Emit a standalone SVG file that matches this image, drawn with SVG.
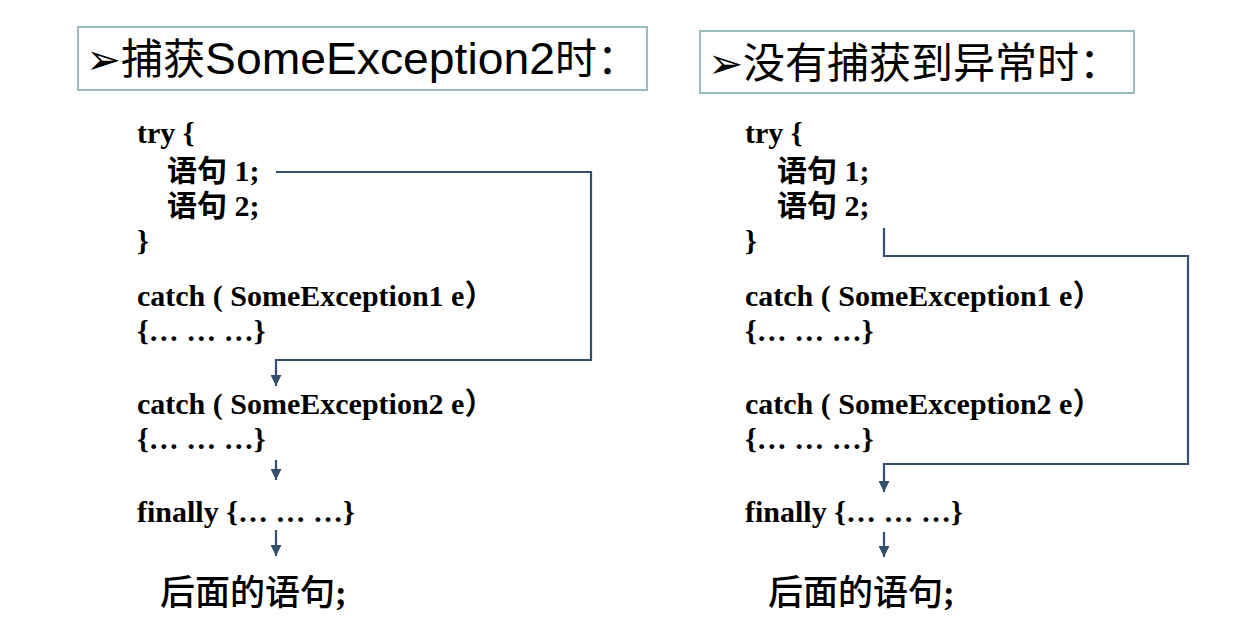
<svg xmlns="http://www.w3.org/2000/svg" width="1238" height="634" viewBox="0 0 1238 634">
<style>
.title{font-family:"Liberation Sans","Noto Sans CJK SC",sans-serif;font-size:42px;fill:#000}
.code{font-family:"Liberation Serif","Noto Sans CJK SC",serif;font-weight:bold;font-size:30px;fill:#000}
.after{font-size:35px;font-weight:500}
.box{fill:#fff;stroke:#9bbcbc;stroke-width:2}
.conn{fill:none;stroke:#34506e;stroke-width:2.2}
</style>
<defs>
<marker id="ah" viewBox="0 0 10 10" refX="10" refY="5" markerWidth="11" markerHeight="11" markerUnits="userSpaceOnUse" orient="auto">
<path d="M0,0 L10,5 L0,10 Z" fill="#34506e"/>
</marker>
</defs>
<rect width="1238" height="634" fill="#fff"/>
<g id="title-left">
<rect class="box" x="78" y="27" width="569" height="63"/>
<text class="title" x="86" y="74">➢捕获<tspan font-size="44" textLength="350" lengthAdjust="spacingAndGlyphs">SomeException2</tspan>时：</text>
</g>
<g id="title-right">
<rect class="box" x="700" y="31" width="434" height="62"/>
<text class="title" x="708" y="78">➢没有捕获到异常时：</text>
</g>
<g id="code-left">
<text class="code" x="137" y="143">try {</text>
<text class="code" x="167" y="181">语句 1;</text>
<text class="code" x="167" y="216">语句 2;</text>
<text class="code" x="137" y="251">}</text>
<text class="code" x="137" y="306">catch ( SomeException1 e）</text>
<text class="code" x="137" y="341">{… … …}</text>
<text class="code" x="137" y="414">catch ( SomeException2 e）</text>
<text class="code" x="137" y="449">{… … …}</text>
<text class="code" x="137" y="522">finally {… … …}</text>
<text class="code after" x="160" y="605">后面的语句<tspan font-weight="bold">;</tspan></text>
</g>
<g id="code-right">
<text class="code" x="745" y="143">try {</text>
<text class="code" x="777" y="181">语句 1;</text>
<text class="code" x="777" y="216">语句 2;</text>
<text class="code" x="745" y="251">}</text>
<text class="code" x="745" y="306">catch ( SomeException1 e）</text>
<text class="code" x="745" y="341">{… … …}</text>
<text class="code" x="745" y="414">catch ( SomeException2 e）</text>
<text class="code" x="745" y="449">{… … …}</text>
<text class="code" x="745" y="522">finally {… … …}</text>
<text class="code after" x="768" y="605">后面的语句<tspan font-weight="bold">;</tspan></text>
</g>
<g id="connectors">
<path class="conn" d="M276,172 H591 V360 H276 V386" marker-end="url(#ah)"/>
<path class="conn" d="M276,460 V480" marker-end="url(#ah)"/>
<path class="conn" d="M276,530 V556" marker-end="url(#ah)"/>
<path class="conn" d="M884,228 V256 H1188 V464 H884 V492" marker-end="url(#ah)"/>
<path class="conn" d="M884,532 V557" marker-end="url(#ah)"/>
</g>
</svg>
